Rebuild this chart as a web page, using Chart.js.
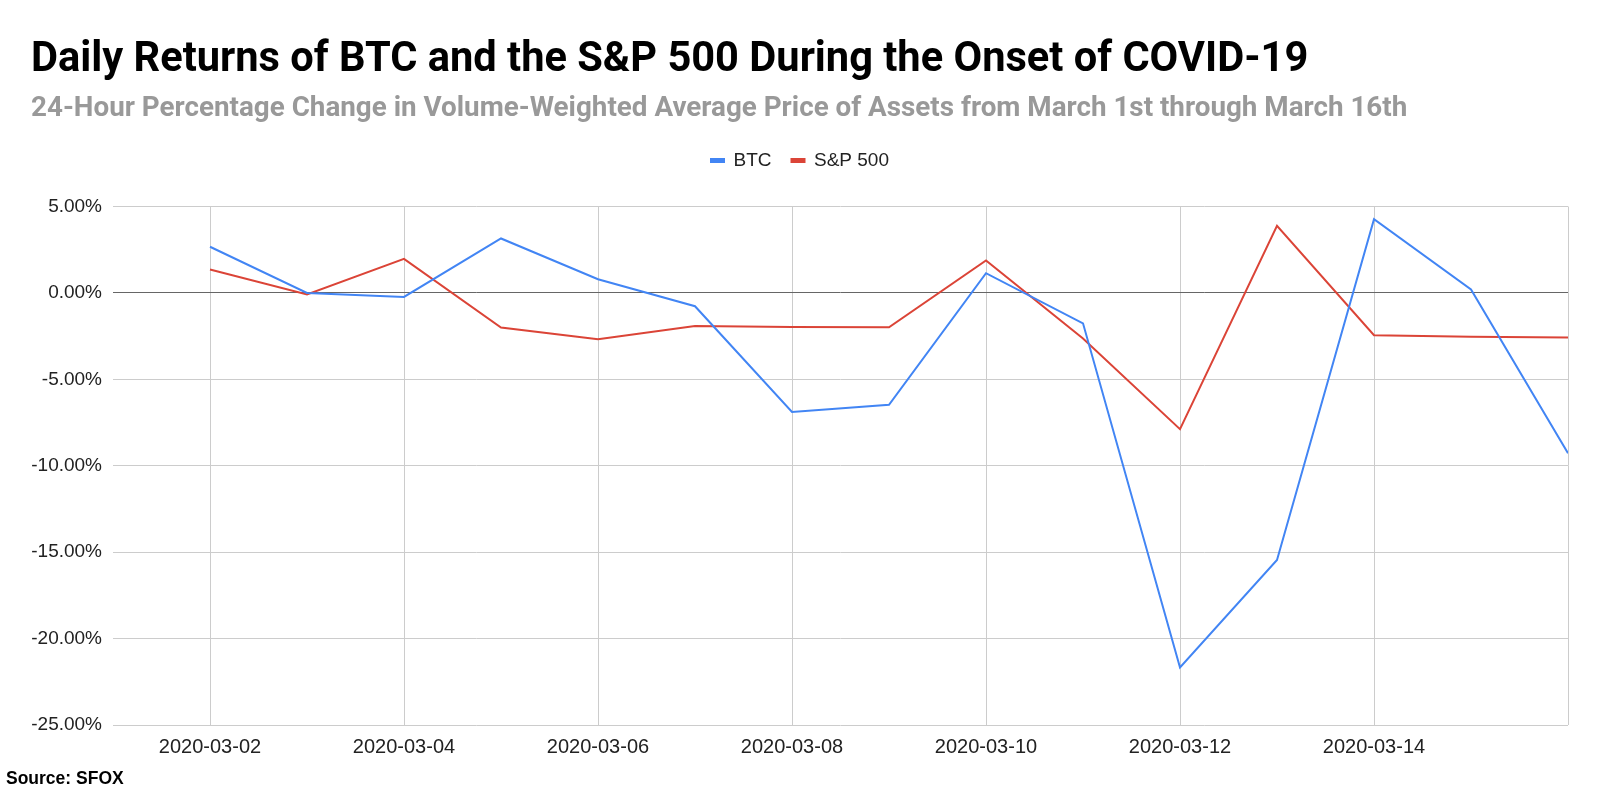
<!DOCTYPE html>
<html>
<head>
<meta charset="utf-8">
<script src="https://cdn.jsdelivr.net/npm/chart.js@4/dist/chart.umd.min.js"></script>
<style>
  html, body { margin: 0; padding: 0; background: #fff; }
  body { width: 1600px; height: 791px; overflow: hidden; position: relative; }
  #chart { position: absolute; left: 0; top: 0; }
  .title { position: absolute; left: 31px; top: 36px; font-family: Roboto, sans-serif; font-weight: 700; font-size: 41.6px; line-height: 1; color: #000; white-space: nowrap; }
  .subtitle { position: absolute; left: 31px; top: 93px; font-family: Roboto, sans-serif; font-weight: 700; font-size: 27.8px; line-height: 1; color: #999; white-space: nowrap; }
  .source { position: absolute; left: 6px; top: 770px; font-family: "Liberation Sans", Arial, sans-serif; font-weight: 700; font-size: 17.5px; line-height: 1; color: #000; white-space: nowrap; }
</style>
</head>
<body>
<canvas id="chart" width="1600" height="791"></canvas>
<div class="title">Daily Returns of BTC and the S&amp;P 500 During the Onset of COVID-19</div>
<div class="subtitle">24-Hour Percentage Change in Volume-Weighted Average Price of Assets from March 1st through March 16th</div>
<div class="source">Source: SFOX</div>
<script>
// ---- data ----
const dates = ['2020-03-02','2020-03-03','2020-03-04','2020-03-05','2020-03-06','2020-03-07','2020-03-08','2020-03-09','2020-03-10','2020-03-11','2020-03-12','2020-03-13','2020-03-14','2020-03-15','2020-03-16'];
const btcReturns = [2.67, 0.00, -0.23, 3.15, 0.79, -0.77, -6.89, -6.47, 1.14, -1.76, -21.67, -15.45, 4.27, 0.20, -9.27];
const spxReturns = [1.36, -0.09, 1.97, -2.00, -2.68, -1.91, -1.97, -1.99, 1.88, -2.64, -7.88, 3.88, -2.45, -2.53, -2.58];
const seriesNames = ['BTC', 'S&P 500'];
const yTicks = [5, 0, -5, -10, -15, -20, -25];

const AXIS_FONT = '"Liberation Sans", Arial, sans-serif';

// spacer between legend and plot area
const legendGap = {
  id: 'legendGap',
  beforeInit(chart) {
    Chart.layouts.addBox(chart, {
      position: 'top', weight: 0, fullSize: true, options: {},
      top: 0, left: 0, right: 0, bottom: 0, width: 0, height: 0,
      update(maxWidth) { this.width = maxWidth; this.height = 26.5; },
      isHorizontal() { return true; },
      draw() {}
    });
  }
};

new Chart(document.getElementById('chart'), {
  type: 'line',
  data: {
    datasets: [
      {
        label: seriesNames[0],
        data: dates.map((d, i) => ({ x: i, y: btcReturns[i] })),
        borderColor: '#4285F4', backgroundColor: '#4285F4',
        borderWidth: 2, pointRadius: 0, tension: 0
      },
      {
        label: seriesNames[1],
        data: dates.map((d, i) => ({ x: i, y: spxReturns[i] })),
        borderColor: '#DB4437', backgroundColor: '#DB4437',
        borderWidth: 2, pointRadius: 0, tension: 0
      }
    ]
  },
  options: {
    responsive: false,
    animation: false,
    layout: { padding: { top: 131, right: 32, bottom: 26, left: 32 } },
    plugins: {
      legend: {
        display: true, position: 'top', align: 'center',
        labels: {
          font: { family: AXIS_FONT, size: 19 }, color: '#222',
          boxWidth: 13, boxHeight: 3, padding: 20
        }
      },
      tooltip: { enabled: false }
    },
    scales: {
      x: {
        type: 'linear', min: -1, max: dates.length - 1,
        afterBuildTicks(scale) {
          scale.ticks = dates.map((d, i) => i).filter(i => i % 2 === 0).map(v => ({ value: v }));
        },
        afterFit(scale) { scale.height = 40; },
        ticks: {
          autoSkip: false, maxRotation: 0, padding: 10,
          font: { family: AXIS_FONT, size: 20 }, color: '#222',
          callback(v) { return v === dates.length - 1 ? '' : dates[v]; }
        },
        grid: { color: '#cccccc', lineWidth: 1, drawTicks: false },
        border: { display: false }
      },
      y: {
        min: yTicks[yTicks.length - 1], max: yTicks[0],
        afterBuildTicks(scale) { scale.ticks = yTicks.map(v => ({ value: v })); },
        afterFit(scale) { scale.width = 81; },
        ticks: {
          padding: 11,
          font: { family: AXIS_FONT, size: 19 }, color: '#222',
          callback(v) { return v.toFixed(2) + '%'; }
        },
        grid: {
          color(ctx) { return ctx.tick && ctx.tick.value === 0 ? '#666666' : '#cccccc'; },
          lineWidth: 1, drawTicks: false
        },
        border: { display: false }
      }
    }
  },
  plugins: [legendGap]
});
</script>
</body>
</html>
